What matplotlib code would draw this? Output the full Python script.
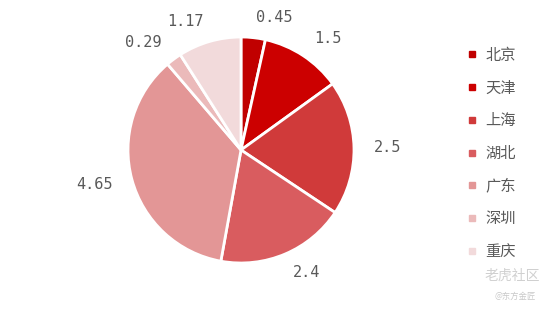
import matplotlib.pyplot as plt
from matplotlib.lines import Line2D

plt.rcParams['font.family'] = ['Noto Sans CJK SC', 'DejaVu Sans']

cities = ['北京', '天津', '上海', '湖北', '广东', '深圳', '重庆']
values = [0.45, 1.5, 2.5, 2.4, 4.65, 0.29, 1.17]
labels = ['0.45', '1.5', '2.5', '2.4', '4.65', '0.29', '1.17']
colors = ['#C00000', '#CC0000', '#D03A3A', '#D95C5F', '#E39696', '#EBBABA', '#F2DADB']

fig = plt.figure(figsize=(5.54, 3.09), dpi=100)
W, H = 554, 309

# pie centre ~ (241, 150) px, radius ~113 px
cx, cy, r = 241, 150, 113
ax = fig.add_axes([(cx - 1.3 * r) / W, 1 - (cy + 1.3 * r) / H, 2.6 * r / W, 2.6 * r / H])

wedges, texts = ax.pie(values, colors=colors, startangle=90, counterclock=False,
                       labels=labels, labeldistance=1.18,
                       wedgeprops=dict(edgecolor='white', linewidth=2),
                       textprops=dict(color='#595959', fontsize=11,
                                      family='DejaVu Sans Mono'))
ax.set_xlim(-1.3, 1.3)
ax.set_ylim(-1.3, 1.3)
ax.set_aspect('equal')
ax.axis('off')

handles = [Line2D([], [], marker='s', linestyle='', markersize=5,
                  markerfacecolor=c, markeredgecolor=c) for c in colors]
leg = fig.legend(handles, cities, loc='upper left',
                 bbox_to_anchor=(452 / W, 1 - 33 / H), frameon=False,
                 fontsize=11, labelspacing=1.03, handlelength=0.8,
                 handletextpad=0.5, labelcolor='#595959')

# watermark
fig.text(512 / W, 1 - 276 / H, '老虎社区', fontsize=10, color='#D0D0D0',
         ha='center', va='center')
fig.text(515 / W, 1 - 296 / H, '@东方金匠', fontsize=6, color='#C8C8C8',
         ha='center', va='center')

fig.savefig('out.png', dpi=100, facecolor='white')
